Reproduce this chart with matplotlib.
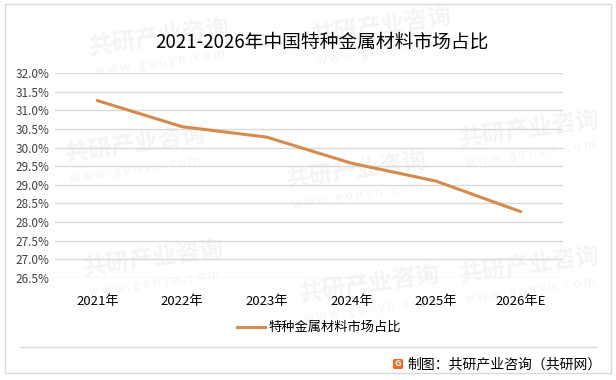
import matplotlib.pyplot as plt
from matplotlib.patches import Rectangle, FancyBboxPatch
from matplotlib.lines import Line2D
import numpy as np

plt.rcParams['font.family'] = ['Noto Sans CJK SC', 'DejaVu Sans']

years = ['2021年', '2022年', '2023年', '2024年', '2025年', '2026年E']
share = [31.26, 30.56, 30.28, 29.58, 29.10, 28.28]
yticks = [26.5, 27.0, 27.5, 28.0, 28.5, 29.0, 29.5, 30.0, 30.5, 31.0, 31.5, 32.0]
title = '2021-2026年中国特种金属材料市场占比'
series_name = '特种金属材料市场占比'
source = '制图：共研产业咨询（共研网）'

W, H = 616, 380
fig = plt.figure(figsize=(W / 100, H / 100), dpi=100)

# plot area in pixels: x 55..563, y 73..278 (top-down)
ax = fig.add_axes([55 / W, 1 - 278 / H, (563 - 55) / W, (278 - 73) / H])
ax.patch.set_visible(False)
x = np.arange(len(years))
ax.plot(x, share, color='#D68A4C', lw=2.2, solid_capstyle='round', zorder=3)
ax.set_xlim(-0.5, len(years) - 0.5)
ax.set_ylim(26.5, 32.0)
ax.set_yticks(yticks)
ax.set_yticklabels([f'{v:.1f}%' for v in yticks], fontsize=8.5, color='#404040')
ax.set_xticks(x)
ax.set_xticklabels(years, fontsize=9.5, color='#000000')
ax.tick_params(axis='both', length=0)
ax.tick_params(axis='x', pad=12)
ax.tick_params(axis='y', pad=4)
ax.grid(axis='y', color='#d9d9d9', lw=1)
ax.set_axisbelow(True)
for s in ax.spines.values():
    s.set_visible(False)

# faint watermarks, behind everything
for wx, wy in [(0.26, 0.9), (0.62, 0.93), (0.22, 0.62), (0.58, 0.55),
               (0.25, 0.32), (0.6, 0.25), (0.86, 0.66), (0.86, 0.3)]:
    fig.text(wx, wy, '共研产业咨询', fontsize=17, fontweight='bold', color='#f4f4f4',
             rotation=8, ha='center', va='center', zorder=-2)
    fig.text(wx, wy - 0.065, 'w w w . g o n y n . c o m', fontsize=9, color='#f4f4f4',
             rotation=8, ha='center', va='center', zorder=-2)

# outer frame and separator
fig.patches.append(Rectangle((5 / W, 1 - 373 / H), (611 - 5) / W, (373 - 4) / H,
                             transform=fig.transFigure, fill=False, ec='#d9d9d9', lw=1))
fig.lines.append(Line2D([21 / W, 596 / W], [1 - 347 / H, 1 - 347 / H],
                        transform=fig.transFigure, color='#d9d9d9', lw=1))

fig.text(322 / W, 1 - 42 / H, title, fontsize=13.5, ha='center', va='center', color='#000000')

# legend
fig.lines.append(Line2D([237 / W, 265 / W], [1 - 327 / H, 1 - 327 / H],
                        transform=fig.transFigure, color='#D68A4C', lw=2.2))
fig.text(268 / W, 1 - 327 / H, series_name, fontsize=9.5, ha='left', va='center')

# source with logo
fig.patches.append(FancyBboxPatch((393 / W, 1 - 369 / H), 10 / W, 10 / H,
                                  boxstyle='round,pad=0,rounding_size=0.003',
                                  transform=fig.transFigure, fc='#F26B21', ec='none'))
fig.text(398 / W, 1 - 364 / H, 'G', fontsize=6.5, fontweight='bold', color='white',
         ha='center', va='center')
fig.text(407 / W, 1 - 364 / H, source, fontsize=10, ha='left', va='center')

fig.savefig('out.png', dpi=100)
